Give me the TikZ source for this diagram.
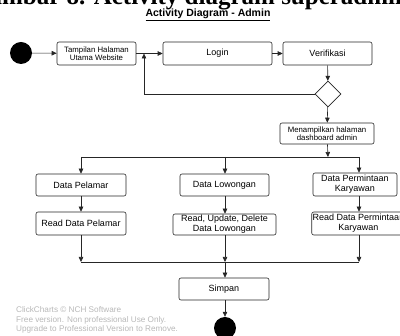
\documentclass[tikz,border=0pt]{standalone}
\usepackage{fontspec}
\setmainfont{Liberation Sans}
\newfontfamily\capfont{Liberation Serif}
\usetikzlibrary{arrows.meta,shapes.geometric}
\begin{document}
\begin{tikzpicture}[x=1pt,y=-1pt,
  act/.style={draw=black!85,line width=0.6pt,rounded corners=2pt,fill=white,
    align=center,inner sep=1pt,font=\fontsize{9}{10}\selectfont},
  smallact/.style={act,font=\fontsize{7.8}{8.4}\selectfont},
  dot/.style={circle,fill=black,minimum size=22pt,inner sep=0pt},
  flow/.style={line width=0.6pt,draw=black!85,-{Triangle[length=5pt,width=4.5pt]}},
  plain/.style={line width=0.6pt,draw=black!85},
  wmtext/.style={text=black!28,font=\fontsize{8.2}{9.5}\selectfont,anchor=west,inner sep=0pt}]
\useasboundingbox (0,0) rectangle (400,336);
\clip (0,0) rectangle (400,336);

% caption of the page, partly cut off above
\node[anchor=base west,inner sep=0pt,font=\capfont\bfseries\fontsize{25}{25}\selectfont] (cap) at (-30,4.5)
  {Gambar 8. Activity diagram superadmin};

% title
\node[anchor=base,font=\bfseries\fontsize{10.5}{12}\selectfont,inner sep=0pt] (title) at (208,17)
  {\underline{Activity Diagram - Admin}};

% nodes
\node[dot] (start) at (21,53) {};
\node[smallact,minimum width=79pt,minimum height=23pt] (tampil) at (96.5,53.5)
  {Tampilan Halaman\\Utama Website};
\node[act,minimum width=109pt,minimum height=23pt] (login) at (217.5,53.5) {Login};
\node[act,minimum width=89pt,minimum height=23pt] (verif) at (327.5,53.5) {Verifikasi};
\node[diamond,draw=black!85,line width=0.6pt,fill=white,minimum width=26pt,minimum height=26pt,inner sep=0pt] (dec) at (328,94) {};
\node[smallact,minimum width=94pt,minimum height=21pt] (menamp) at (327,133.5)
  {Menampilkan halaman\\dashboard admin};

\node[act,minimum width=90pt,minimum height=22pt] (pelamar) at (81,185) {Data Pelamar};
\node[act,minimum width=89pt,minimum height=22pt] (lowongan) at (224.5,185) {Data Lowongan};
\node[act,minimum width=84pt,minimum height=23pt] (permintaan) at (355,184.5)
  {Data Permintaan\\Karyawan};

\node[act,minimum width=90pt,minimum height=23pt] (readpel) at (81,223.5) {Read Data Pelamar};
\node[act,minimum width=103pt,minimum height=21pt] (rud) at (224.5,224.5)
  {Read, Update, Delete\\Data Lowongan};
\node[act,minimum width=93pt,minimum height=23pt] (readper) at (358.5,223.5)
  {Read Data Permintaan\\Karyawan};

\node[act,minimum width=90pt,minimum height=22pt] (simpan) at (224,289) {Simpan};
\node[dot] (end) at (225,328) {};

% junction points
\coordinate (back) at (144,53.5);
\coordinate (fm) at (328,157);
\coordinate (f1) at (81,157);
\coordinate (f2) at (225,157);
\coordinate (f3) at (359,157);
\coordinate (j1) at (81,262);
\coordinate (j2) at (225,262);
\coordinate (j3) at (359,262);

% connectors
\draw[flow] (start) -- (tampil);
\draw[flow] (tampil) -- (login);
\draw[flow] (login) -- (verif);
\draw[flow] (verif) -- (dec);
\draw[flow] (dec.west) -| (back);
\draw[flow] (dec) -- (menamp);
\draw[flow] (menamp) -- (fm);
\draw[plain] (f1) -- (f3);
\draw[flow] (f1) -- (pelamar);
\draw[flow] (f2) -- (f2 |- lowongan.north);
\draw[flow] (f3) -- (f3 |- permintaan.north);
\draw[flow] (pelamar) -- (readpel);
\draw[flow] (lowongan.south -| f2) -- (f2 |- rud.north);
\draw[flow] (permintaan.south -| f3) -- (f3 |- readper.north);
\draw[flow] (readpel) -- (j1);
\draw[flow] (rud.south -| j2) -- (j2);
\draw[flow] (readper.south -| j3) -- (j3);
\draw[plain] (j1) -- (j3);
\draw[flow] (j2) -- (j2 |- simpan.north);
\draw[flow] (simpan.south -| end) -- (end);

% watermark
\node[wmtext] (wm1) at (16,310) {ClickCharts © NCH Software};
\node[wmtext] (wm2) at (16,320) {Free version. Non professional Use Only.};
\node[wmtext] (wm3) at (16,329.5) {Upgrade to Professional Version to Remove.};
\end{tikzpicture}
\end{document}
